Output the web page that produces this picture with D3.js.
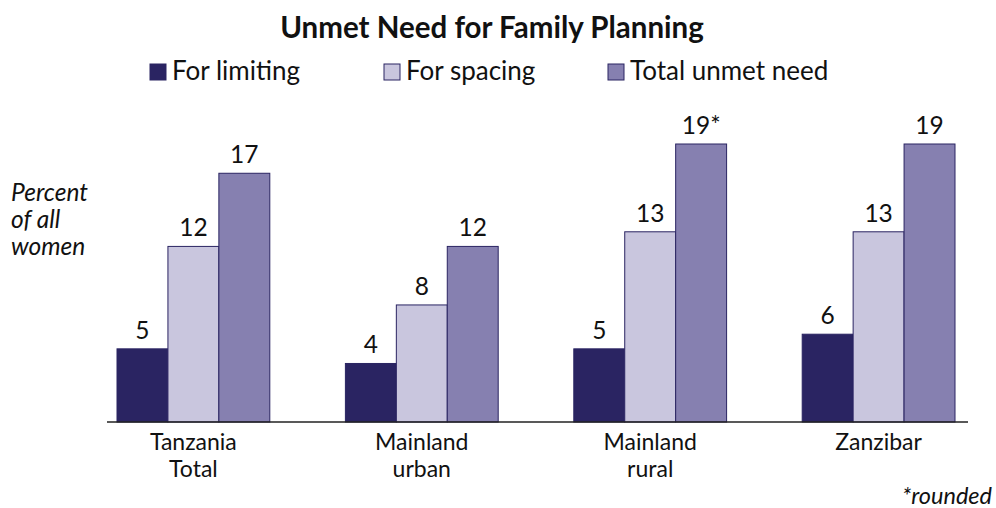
<!DOCTYPE html>
<html>
<head>
<meta charset="utf-8">
<script src="https://cdn.jsdelivr.net/npm/d3@7"></script>
<style>
  body { margin: 0; background: #fff; }
  svg text { font-family: Lato, "Open Sans", sans-serif; fill: #111; }
</style>
</head>
<body>
<svg id="chart" width="996" height="508"></svg>
<script>
const categories = [["Tanzania", "Total"], ["Mainland", "urban"], ["Mainland", "rural"], ["Zanzibar"]];
const seriesNames = ["For limiting", "For spacing", "Total unmet need"];
const forLimiting = [5, 4, 5, 6];
const forSpacing = [12, 8, 13, 13];
const totalUnmet = [17, 12, 19, 19];
const totalLabels = ["17", "12", "19*", "19"];
const colors = ["#2a2462", "#c9c6de", "#8680b0"];

const series = [forLimiting, forSpacing, totalUnmet];
const baseline = 422;

const svg = d3.select("#chart");

const x0 = d3.scaleBand()
  .domain(d3.range(categories.length))
  .range([117, 955])
  .paddingInner(0.331)
  .paddingOuter(0);

const x1 = d3.scaleBand()
  .domain(d3.range(series.length))
  .range([0, x0.bandwidth()]);

const y = d3.scaleLinear()
  .domain([0, 19])
  .range([baseline, 144]);

// title
svg.append("text")
  .attr("x", 492).attr("y", 38)
  .attr("text-anchor", "middle")
  .attr("font-size", 29.5).attr("font-weight", "bold")
  .text("Unmet Need for Family Planning");

// legend
const legendX = [150, 384, 608];
const legend = svg.append("g").selectAll("g")
  .data(seriesNames).enter().append("g")
  .attr("transform", (d, i) => `translate(${legendX[i]}, 64)`);
legend.append("rect")
  .attr("width", 16).attr("height", 16)
  .attr("fill", (d, i) => colors[i])
  .attr("stroke", colors[0]).attr("stroke-width", 1);
legend.append("text")
  .attr("x", 22).attr("y", 16)
  .attr("font-size", 26)
  .text(d => d);

// bars
const groups = svg.append("g").selectAll("g")
  .data(categories).enter().append("g")
  .attr("transform", (d, i) => `translate(${x0(i)},0)`);

groups.selectAll("rect")
  .data((d, ci) => series.map((s, si) => ({ si, v: s[ci], ci })))
  .enter().append("rect")
  .attr("x", d => x1(d.si))
  .attr("y", d => y(d.v))
  .attr("width", x1.bandwidth())
  .attr("height", d => y(0) - y(d.v))
  .attr("fill", d => colors[d.si])
  .attr("stroke", colors[0])
  .attr("stroke-width", 1);

groups.selectAll("text.val")
  .data((d, ci) => series.map((s, si) => ({ si, v: s[ci], ci })))
  .enter().append("text")
  .attr("class", "val")
  .attr("x", d => x1(d.si) + x1.bandwidth() / 2)
  .attr("y", d => y(d.v) - 10)
  .attr("text-anchor", "middle")
  .attr("font-size", 24.5)
  .text(d => d.si === 2 ? totalLabels[d.ci] : d.v);

// baseline
svg.append("line")
  .attr("x1", 107).attr("x2", 968)
  .attr("y1", baseline).attr("y2", baseline)
  .attr("stroke", "#222").attr("stroke-width", 1.5);

// category labels, one text per line
groups.selectAll("text.cat")
  .data(d => d).enter().append("text")
  .attr("class", "cat")
  .attr("text-anchor", "middle")
  .attr("font-size", 23)
  .attr("x", x0.bandwidth() / 2)
  .attr("y", (d, i) => 450 + i * 26.5)
  .text(d => d);

// y label
svg.selectAll("text.ylab")
  .data(["Percent", "of all", "women"]).enter().append("text")
  .attr("class", "ylab")
  .attr("font-size", 24.5).attr("font-style", "italic")
  .attr("x", 11)
  .attr("y", (d, i) => 201 + i * 27)
  .text(d => d);

// footnote
svg.append("text")
  .attr("x", 992).attr("y", 504)
  .attr("text-anchor", "end")
  .attr("font-size", 23.5).attr("font-style", "italic")
  .text("*rounded");
</script>
</body>
</html>
